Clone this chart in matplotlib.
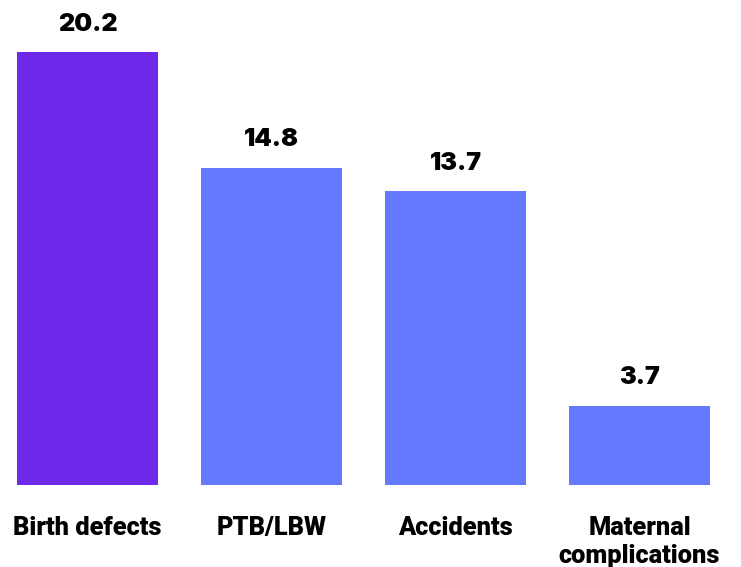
import matplotlib
matplotlib.use('Agg')
import matplotlib.pyplot as plt

categories = ['Birth defects', 'PTB/LBW', 'Accidents', 'Maternal\ncomplications']
values = [20.2, 14.8, 13.7, 3.7]
colors = ['#6E29EB', '#6479FF', '#6479FF', '#6479FF']

fig = plt.figure(figsize=(7.41, 5.67), dpi=100)
ax = fig.add_axes([0, 82 / 567, 1, 485 / 567])

x = range(len(categories))
ax.bar(x, values, width=141 / 184, color=colors)

px_per_unit = 433 / 20.2
ax.set_ylim(0, 485 / px_per_unit)
ax.set_xlim(-87.5 / 184, (741 - 87.5) / 184)

for i, v in zip(x, values):
    ax.annotate(f'{v}', (i, v), xytext=(0, 20), textcoords='offset points',
                ha='center', va='center', fontsize=18, fontweight='black',
                family='Inter', color='black')

ax.set_xticks(list(x))
ax.set_xticklabels(categories, fontsize=18.3, fontweight='black', family='Roboto',
                   linespacing=1.22)
ax.tick_params(axis='x', length=0, pad=22)
ax.set_yticks([])
for s in ax.spines.values():
    s.set_visible(False)

fig.savefig('out.png', dpi=100)
